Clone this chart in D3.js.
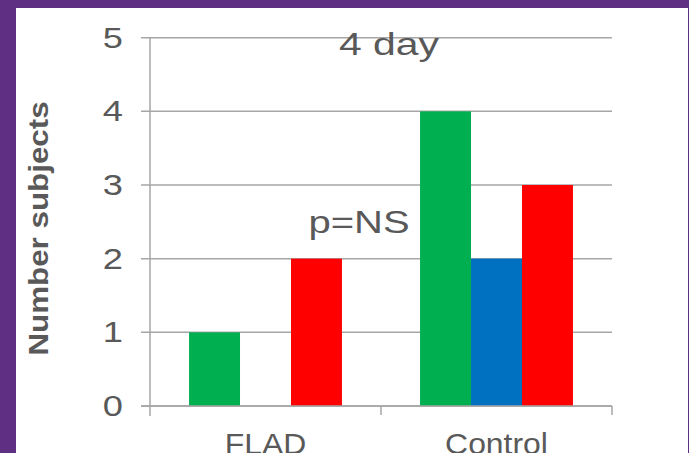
<!DOCTYPE html>
<html><head><meta charset="utf-8">
<script src="https://cdn.jsdelivr.net/npm/d3@7"></script>
<style>
html,body{margin:0;padding:0;background:#5E2F82;}
svg{display:block;}
</style></head>
<body>
<svg id="chart" width="689" height="453"></svg>
<script>
const categories = ["FLAD", "Control"];
const seriesNames = ["Series 1", "Series 2", "Series 3"];
const seriesColors = ["#00B050", "#0070C0", "#FF0000"];
const series1 = [1, 4];
const series2 = [0, 2];
const series3 = [2, 3];
const yTicks = [0, 1, 2, 3, 4, 5];
const chartTitle = "4 day";
const note = "p=NS";
const yTitle = "Number subjects";

(function () {
const seriesValues = [series1, series2, series3];
const svg = d3.select("#chart");
const textColor = "#595959";
const gridColor = "#A6A6A6";
const font = "Liberation Sans, Arial, sans-serif";

svg.append("rect").attr("x", 16).attr("y", 8).attr("width", 672).attr("height", 445).attr("fill", "#fff");

const pLeft = 150, pRight = 612, pTop = 37.7, pBottom = 406;
const y = d3.scaleLinear().domain([0, 5]).range([pBottom, pTop]);
const x = d3.scaleBand().domain(categories).range([pLeft, pRight]).paddingInner(0.338).paddingOuter(0.169);
const xs = d3.scaleBand().domain(seriesNames).range([0, x.bandwidth()]);

// gridlines
svg.append("g").selectAll("line").data(yTicks).join("line")
  .attr("x1", pLeft - 9).attr("x2", pRight)
  .attr("y1", d => y(d)).attr("y2", d => y(d))
  .attr("stroke", gridColor).attr("stroke-width", 1.5);

// bars
const rows = [];
categories.forEach((c, i) => seriesNames.forEach((s, j) => rows.push({c, s, j, v: seriesValues[j][i]})));
svg.append("g").selectAll("rect").data(rows.filter(d => d.v > 0)).join("rect")
  .attr("x", d => x(d.c) + xs(d.s))
  .attr("width", xs.bandwidth())
  .attr("y", d => y(d.v))
  .attr("height", d => y(0) - y(d.v))
  .attr("fill", d => seriesColors[d.j]);

// axes lines
svg.append("line").attr("x1", pLeft).attr("x2", pLeft).attr("y1", pTop).attr("y2", pBottom + 10)
  .attr("stroke", gridColor).attr("stroke-width", 1.5);
svg.append("line").attr("x1", pLeft - 9).attr("x2", pRight).attr("y1", pBottom).attr("y2", pBottom)
  .attr("stroke", gridColor).attr("stroke-width", 1.5);
const bounds = [pLeft, (pLeft + pRight) / 2, pRight];
svg.append("g").selectAll("line").data(bounds.slice(1)).join("line")
  .attr("x1", d => d).attr("x2", d => d).attr("y1", pBottom).attr("y2", pBottom + 9)
  .attr("stroke", gridColor).attr("stroke-width", 1.5);

// y tick labels
svg.append("g").selectAll("text").data(yTicks).join("text")
  .attr("transform", d => `translate(123,${y(d) + 10}) scale(1.25,1)`)
  .attr("text-anchor", "end")
  .attr("font-family", font)
  .attr("font-size", 29).attr("fill", textColor)
  .text(d => d);

// x labels
svg.append("g").selectAll("text").data(categories).join("text")
  .attr("transform", d => `translate(${x(d) + x.bandwidth() / 2},454) scale(1.1,1)`)
  .attr("text-anchor", "middle")
  .attr("font-family", font)
  .attr("font-size", 29).attr("fill", textColor)
  .text(d => d);

// title
svg.append("text").attr("transform", "translate(389,55) scale(1.28,1)").attr("text-anchor", "middle")
  .attr("font-family", font)
  .attr("font-size", 32).attr("fill", textColor).text(chartTitle);

svg.append("text").attr("transform", "translate(359,233) scale(1.25,1)").attr("text-anchor", "middle")
  .attr("font-family", font)
  .attr("font-size", 32).attr("fill", textColor).text(note);

// y title
svg.append("text").attr("transform", "translate(48,228.5) rotate(-90) scale(1.1,1)")
  .attr("text-anchor", "middle")
  .attr("font-family", font)
  .attr("font-weight", "bold")
  .attr("font-size", 28.5).attr("fill", textColor).text(yTitle);
})();
</script>
</body></html>
